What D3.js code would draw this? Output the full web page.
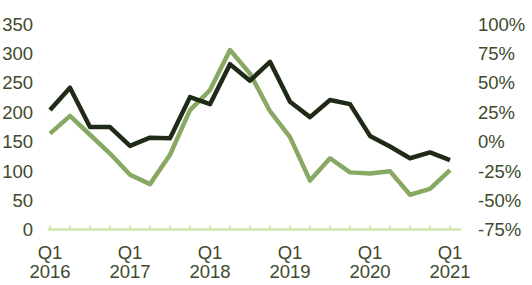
<!DOCTYPE html>
<html>
<head>
<meta charset="utf-8">
<script src="https://cdn.jsdelivr.net/npm/d3@7"></script>
<style>
  body { margin: 0; background: #fff; }
  svg text { font-family: "Liberation Sans", Arial, sans-serif; font-size: 18.5px; fill: #3d4b2c; }
</style>
</head>
<body>
<svg id="chart" width="532" height="285"></svg>
<script>
// quarters Q1 2016 .. Q1 2021
const quarters = d3.range(21);
const yearLabels = ["2016", "2017", "2018", "2019", "2020", "2021"];
const leftTicks = [0, 50, 100, 150, 200, 250, 300, 350];
const rightTicks = [-75, -50, -25, 0, 25, 50, 75, 100];

// dark line, left axis
const volume = [204, 242, 175, 175, 143, 157, 156, 226, 214, 282, 254, 286, 218, 192, 221, 214, 160, 142, 122, 132, 119];
// light line, right axis (%)
const change = [7, 22, 6, -10, -28, -36, -11, 27, 44, 78, 58, 26, 4, -33, -14, -26, -27, -25, -45, -40, -24];

const svg = d3.select("#chart");

const x = d3.scaleLinear().domain([0, 20]).range([50, 450]);
const yL = d3.scaleLinear().domain([0, 350]).range([230, 24.2]);
const yR = d3.scaleLinear().domain([-75, 100]).range([230, 24.2]);

// left axis labels
svg.append("g")
  .attr("transform", "translate(33,0)")
  .call(d3.axisLeft(yL).tickValues(leftTicks).tickSize(0).tickPadding(0))
  .call(g => g.select(".domain").remove())
  .selectAll("text")
  .attr("font-size", null).attr("font-family", null).attr("fill", null);

// right axis labels
svg.append("g")
  .attr("transform", "translate(478,0)")
  .call(d3.axisRight(yR).tickValues(rightTicks).tickSize(0).tickPadding(0).tickFormat(d => d + "%"))
  .call(g => g.select(".domain").remove())
  .selectAll("text")
  .attr("font-size", null).attr("font-family", null).attr("fill", null);

// x axis baseline with small upward ticks
svg.append("line")
  .attr("x1", 48).attr("x2", 461)
  .attr("y1", 229.5).attr("y2", 229.5)
  .attr("stroke", "#c6e29c").attr("stroke-width", 2);

svg.selectAll(".qtick")
  .data(quarters)
  .enter()
  .append("line")
  .attr("class", "qtick")
  .attr("x1", d => x(d)).attr("x2", d => x(d))
  .attr("y1", 225.5).attr("y2", 229.5)
  .attr("stroke", "#c6e29c").attr("stroke-width", 1.5);

const xl = svg.selectAll(".xlab")
  .data(yearLabels)
  .enter()
  .append("text")
  .attr("class", "xlab")
  .attr("text-anchor", "middle")
  .attr("x", (d, i) => x(i * 4));
xl.append("tspan").attr("x", (d, i) => x(i * 4)).attr("y", 259).text("Q1");
xl.append("tspan").attr("x", (d, i) => x(i * 4)).attr("y", 278).text(d => d);

// lines
const lineL = d3.line().x((d, i) => x(i)).y(d => yL(d));
const lineR = d3.line().x((d, i) => x(i)).y(d => yR(d));

svg.append("path")
  .datum(change)
  .attr("d", lineR)
  .attr("fill", "none")
  .attr("stroke", "#88a964")
  .attr("stroke-width", 4.5)
  .attr("stroke-linejoin", "round");

svg.append("path")
  .datum(volume)
  .attr("d", lineL)
  .attr("fill", "none")
  .attr("stroke", "#1f2b17")
  .attr("stroke-width", 4.5)
  .attr("stroke-linejoin", "round");
</script>
</body>
</html>
